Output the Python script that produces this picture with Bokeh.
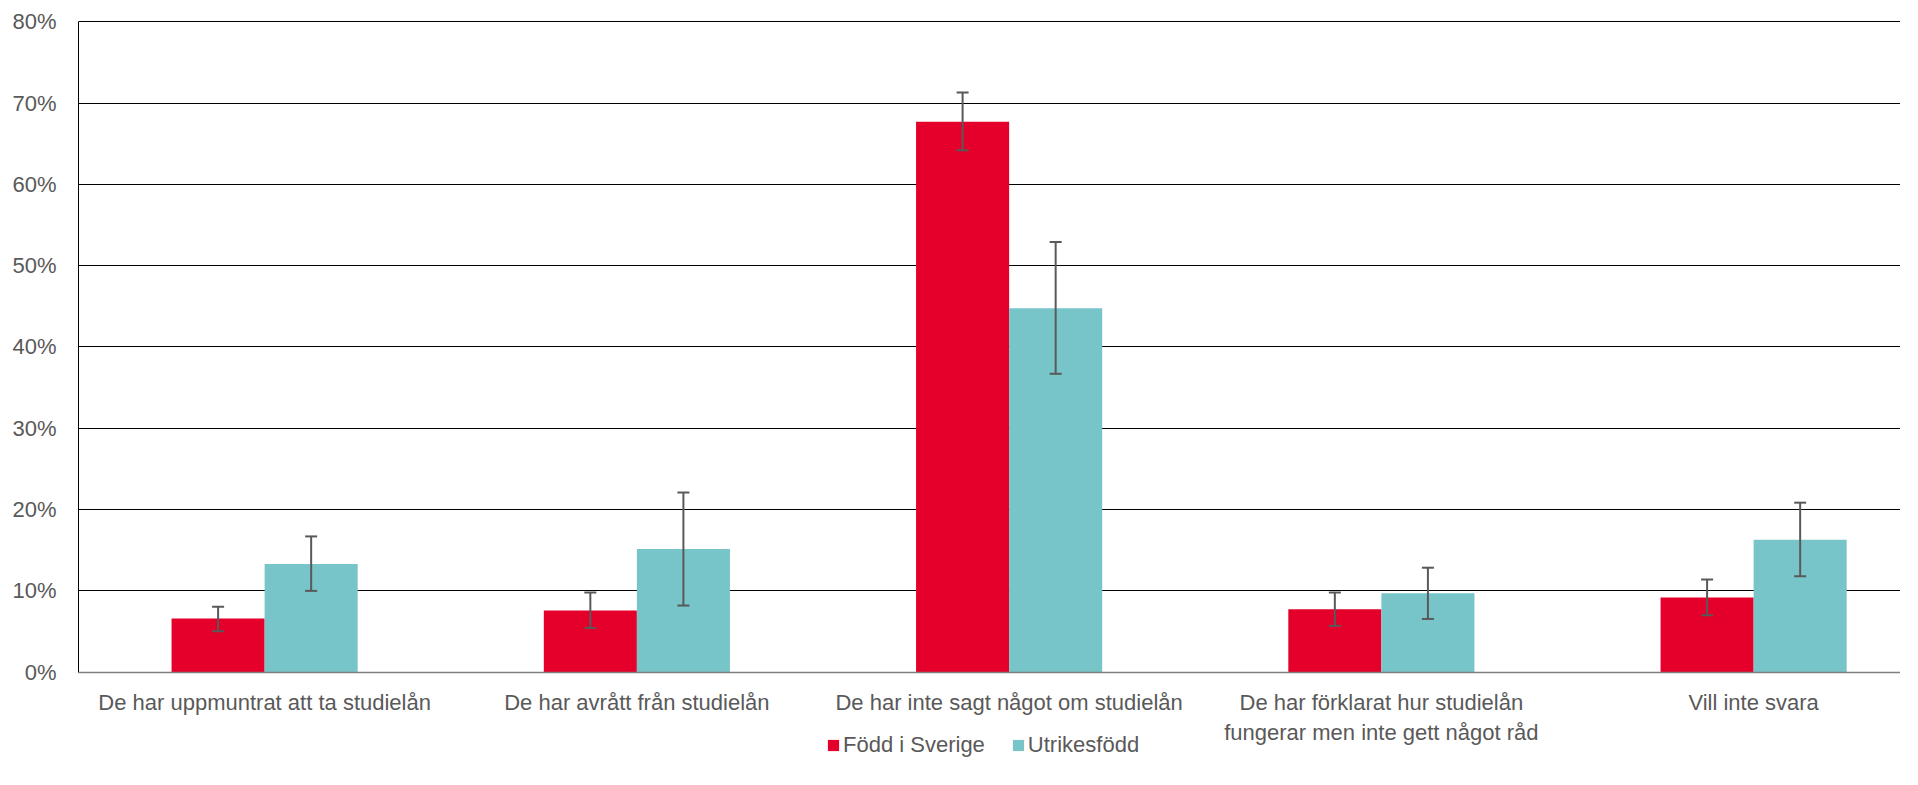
from bokeh.plotting import figure
from bokeh.models import (Range1d, FixedTicker, Whisker, TeeHead, ColumnDataSource,
                          Legend, LegendItem, PrintfTickFormatter)
from bokeh.embed import file_html
from bokeh.resources import INLINE

# ---------------- data ----------------
categories = [
    "De har uppmuntrat att ta studielån",
    "De har avrått från studielån",
    "De har inte sagt något om studielån",
    "De har förklarat hur studielån\nfungerar men inte gett något råd",
    "Vill inte svara",
]
series_names = ["Född i Sverige", "Utrikesfödd"]

fodd_i_sverige = [6.6, 7.6, 67.7, 7.75, 9.2]
fodd_i_sverige_low = [5.05, 5.45, 64.2, 5.7, 7.0]
fodd_i_sverige_high = [8.05, 9.8, 71.3, 9.8, 11.4]

utrikesfodd = [13.3, 15.15, 44.75, 9.7, 16.3]
utrikesfodd_low = [10.0, 8.2, 36.7, 6.55, 11.8]
utrikesfodd_high = [16.7, 22.1, 52.9, 12.85, 20.85]

y_ticks = [0, 10, 20, 30, 40, 50, 60, 70, 80]

# ---------------- styling / layout ----------------
RED = "#E4002B"
TEAL = "#77C5C8"
TEXT = "#595959"
FONT = "Liberation Sans"
FS = "22px"
BAR_W = 0.25

W, H = 1900, 760
TOP, LEFT = 20, 78
ZERO_PX = 671.7            # pixel row of the 0% line
Y_END = 80.15
px_per_unit = (ZERO_PX - TOP) / Y_END
y_start = Y_END - (H - TOP) / px_per_unit   # frame reaches the figure bottom
x_end = (W - LEFT) / 372.25                 # category width in px

centers = [i + 0.5 for i in range(len(categories))]
src_a = ColumnDataSource(dict(x=[c - BAR_W / 2 for c in centers], top=fodd_i_sverige,
                              lo=fodd_i_sverige_low, hi=fodd_i_sverige_high))
src_b = ColumnDataSource(dict(x=[c + BAR_W / 2 for c in centers], top=utrikesfodd,
                              lo=utrikesfodd_low, hi=utrikesfodd_high))

p = figure(width=W, height=H, output_backend="svg", toolbar_location=None,
           x_range=Range1d(0, x_end), y_range=Range1d(y_start, Y_END),
           min_border_left=LEFT, min_border_right=0, min_border_top=TOP, min_border_bottom=0)
p.outline_line_color = None
p.background_fill_color = "white"
p.border_fill_color = "white"

r1 = p.vbar(x="x", top="top", bottom=0, width=BAR_W, source=src_a, fill_color=RED, line_color=None)
r2 = p.vbar(x="x", top="top", bottom=0, width=BAR_W, source=src_b, fill_color=TEAL, line_color=None)

for s in (src_a, src_b):
    w = Whisker(source=s, base="x", upper="hi", lower="lo", line_color=TEXT, line_width=2,
                upper_head=TeeHead(size=12, line_color=TEXT, line_width=2),
                lower_head=TeeHead(size=12, line_color=TEXT, line_width=2),
                level="annotation")
    p.add_layout(w)

# x axis drawn at the 0% line
p.xaxis.fixed_location = 0
p.xaxis.ticker = FixedTicker(ticks=centers)
p.xaxis.major_label_overrides = {c: lab for c, lab in zip(centers, categories)}
p.xaxis.major_tick_line_color = None
p.xaxis.minor_tick_line_color = None
p.xaxis.axis_line_color = "#7f7f7f"
p.xaxis.axis_line_width = 1.5
p.xaxis.major_label_standoff = 12
p.xaxis.major_label_text_font = FONT
p.xaxis.major_label_text_font_size = FS
p.xaxis.major_label_text_color = TEXT

p.yaxis.bounds = (0, 80)
p.yaxis.ticker = FixedTicker(ticks=y_ticks)
p.yaxis.formatter = PrintfTickFormatter(format="%d%%")
p.yaxis.major_tick_line_color = None
p.yaxis.minor_tick_line_color = None
p.yaxis.axis_line_color = "black"
p.yaxis.axis_line_width = 1
p.yaxis.major_label_standoff = 16
p.yaxis.major_label_text_font = FONT
p.yaxis.major_label_text_font_size = FS
p.yaxis.major_label_text_color = TEXT

p.xgrid.grid_line_color = None
p.ygrid.ticker = FixedTicker(ticks=y_ticks[1:])
p.ygrid.grid_line_color = "black"
p.ygrid.grid_line_width = 1

legend = Legend(items=[LegendItem(label=series_names[0], renderers=[r1]),
                       LegendItem(label=series_names[1], renderers=[r2])],
                orientation="horizontal", location=(748, 2),
                label_text_font=FONT, label_text_font_size=FS, label_text_color=TEXT,
                glyph_width=14, glyph_height=14, label_standoff=3, spacing=26,
                padding=0, margin=0, border_line_color=None, background_fill_alpha=0)
p.add_layout(legend, "center")

open("out.html", "w").write(file_html(p, INLINE))
